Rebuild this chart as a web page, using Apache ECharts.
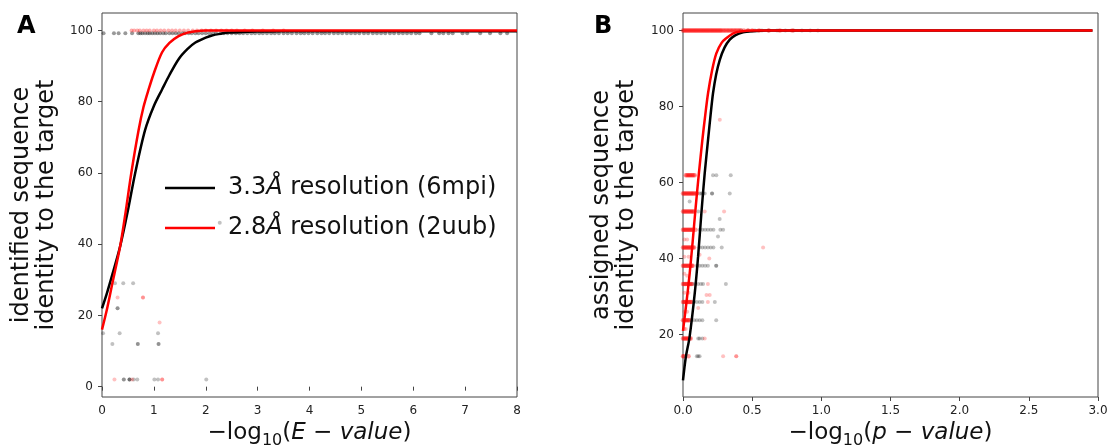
<!DOCTYPE html>
<html><head><meta charset="utf-8">
<script src="https://cdn.jsdelivr.net/npm/echarts@6/dist/echarts.min.js"></script>
<style>html,body{margin:0;padding:0;background:#fff}#c{width:1110px;height:448px}</style>
</head><body><div id="c"></div>
<script>
// ---------- Panel A data ----------
const xTicksA = [0,1,2,3,4,5,6,7,8];
const yTicksA = [0,20,40,60,80,100];
const blackCurveAx = [0,0.1,0.2,0.35,0.5,0.64,0.83,1.0,1.16,1.3,1.48,1.65,1.8,2.0,2.12,2.3,2.44,2.7,3.0,3.5,4,5,6,7,8];
const blackCurveAy = [22,26.5,31.5,39.4,49.5,60,72,78.8,83.5,87.5,92,94.8,96.6,98,98.6,99.1,99.4,99.6,99.7,99.8,99.8,99.8,99.8,99.8,99.8];
const redCurveAx = [0,0.1,0.2,0.35,0.45,0.565,0.705,0.8,0.9,1.0,1.156,1.3,1.476,1.65,1.8,2.0,2.5,8];
const redCurveAy = [16,22,29,39.4,48.5,60,72,78.5,83.5,88,93.8,96.5,98.4,99.4,99.8,100,100,100];
const blackLowA = [[0.25,29],[0.41,29],[0.6,29],[0.30,22],[0.30,22],[0.02,15],[0.34,15],[1.08,15],[0.2,12],[0.69,12],[0.69,12],[1.09,12],[1.09,12],[0.42,2],[0.42,2],[0.53,2],[0.53,2],[0.53,2],[0.61,2],[0.68,2],[1.01,2],[1.08,2],[2.01,2],[2.27,46]];
const redLowA = [[0.30,25],[0.79,25],[0.79,25],[1.11,18],[0.24,2],[1.16,2],[1.16,2],[0.58,2]];
const blackTopAy = 99.2;
const blackTopAx = [0.03,0.23,0.32,0.45,0.58,0.7,0.74,0.78,0.83,0.88,0.92,0.97,1.02,1.07,1.12,1.18,1.23,1.3,1.36,1.42,1.48,1.55,1.6,1.67,1.73,1.8,1.86,1.93,2.0,2.07,2.14,2.2,2.28,2.35,2.42,2.5,2.58,2.65,2.72,2.8,2.88,2.95,3.03,3.1,3.18,3.26,3.33,3.41,3.5,3.58,3.66,3.75,3.83,3.9,3.98,4.06,4.15,4.23,4.3,4.38,4.47,4.55,4.63,4.72,4.8,4.88,4.96,5.05,5.13,5.22,5.3,5.38,5.46,5.55,5.63,5.72,5.8,5.88,5.96,6.05,6.12,6.35,6.5,6.58,6.68,6.76,6.95,7.04,7.29,7.48,7.68,7.81];
const redTopAy = 100;
const redTopAx = [0.57,0.62,0.68,0.73,0.8,0.86,0.92,1.0,1.06,1.13,1.2,1.28,1.35,1.42,1.5,1.58,1.66,1.75,1.83,1.92,2.0,2.1,2.2,2.3,2.4,2.5,2.6,2.75,2.9,3.1,3.3,3.5];

// ---------- Panel B data ----------
const xTicksB = [0,0.5,1.0,1.5,2.0,2.5,3.0];
const yTicksB = [20,40,60,80,100];
const blackCurveBx = [0,0.02,0.048,0.085,0.109,0.133,0.157,0.181,0.2,0.217,0.24,0.266,0.3,0.338,0.38,0.434,0.5,0.6,1.0,2.0,2.96];
const blackCurveBy = [8,14,19.5,30.9,40.5,52,62.5,71.2,78,83.5,88.5,92.3,95.5,97.6,98.8,99.5,99.8,100,100,100,100];
const redCurveBx = [0,0.025,0.048,0.07,0.092,0.115,0.14,0.16,0.181,0.21,0.241,0.28,0.314,0.36,0.41,0.5,0.6,1.0,2.0,2.96];
const redCurveBy = [21,28.5,36,44.5,53.7,62.5,71.2,77.5,83.5,89.5,94,96.8,98,99.2,99.7,100,100,100,100,100];
const redRunLevelsB = [61.9,57.1,52.4,47.6,42.9,38.1,33.3,28.6,23.8,19.0,14.3];
const redRunXB = [
  [0.02,0.028,0.036,0.044,0.052,0.06,0.068,0.076,0.085],
  [0,0.008,0.016,0.024,0.032,0.04,0.048,0.056,0.064,0.072,0.08,0.09,0.1],
  [0,0.008,0.016,0.024,0.032,0.04,0.048,0.056,0.064,0.072,0.08],
  [0,0.008,0.016,0.024,0.032,0.04,0.048,0.056,0.064,0.072,0.09],
  [0,0.008,0.016,0.024,0.032,0.04,0.048,0.056,0.064,0.072,0.08],
  [0,0.008,0.016,0.024,0.032,0.04,0.048,0.056,0.064,0.07],
  [0,0.008,0.016,0.024,0.032,0.04,0.048,0.056,0.064],
  [0,0.008,0.016,0.024,0.032,0.04,0.048,0.056,0.064],
  [0,0.008,0.016,0.024,0.032,0.04,0.048],
  [0,0.008,0.016,0.024,0.032,0.04,0.048,0.056],
  [0,0.006,0.04]
];
const redTopBy = 100;
const redTopBx = [0,0.008,0.016,0.024,0.032,0.04,0.048,0.056,0.064,0.072,0.08,0.088,0.096,0.104,0.112,0.12,0.128,0.136,0.144,0.152,0.16,0.168,0.176,0.184,0.192,0.2,0.208,0.216,0.224,0.232,0.24,0.248,0.256,0.264,0.272,0.28,0.29,0.3,0.31,0.32,0.33,0.34,0.35,0.36,0.37,0.38,0.39,0.4,0.41,0.42,0.44,0.47,0.5,0.55,0.62,0.7,0.79];
const redExtraB = [[0.157,52.4],[0.297,52.4],[0.579,42.9],[0.12,41],[0.19,40],[0.18,33.3],[0.17,30.4],[0.193,30.4],[0.18,28.6],[0.11,27],[0.157,19.0],[0.29,14.3],[0.385,14.3],[0.385,14.3],[0.266,76.5],
  [0.01,45],[0.03,45],[0.01,40.5],[0.04,40.5],[0.01,36],[0.03,35.5],[0.01,31],[0.04,31],[0.01,26],[0.03,26],[0.01,21.5],[0.02,21.5]];
const blackB = [[0.217,61.9],[0.241,61.9],[0.345,61.9],
  [0.12,57.1],[0.133,57.1],[0.145,57.1],[0.157,57.1],[0.21,57.1],[0.21,57.1],[0.338,57.1],[0.048,55],
  [0.11,52.4],[0.265,50.4],
  [0.12,47.6],[0.14,47.6],[0.16,47.6],[0.18,47.6],[0.2,47.6],[0.22,47.6],[0.27,47.6],[0.29,47.6],[0.253,45.8],
  [0.12,42.9],[0.14,42.9],[0.16,42.9],[0.18,42.9],[0.2,42.9],[0.22,42.9],[0.28,42.9],
  [0.1,38.1],[0.12,38.1],[0.14,38.1],[0.16,38.1],[0.18,38.1],[0.24,38.1],[0.24,38.1],
  [0.07,33.3],[0.09,33.3],[0.11,33.3],[0.13,33.3],[0.145,33.3],[0.31,33.3],
  [0.08,28.6],[0.1,28.6],[0.12,28.6],[0.14,28.6],[0.23,28.6],
  [0.06,23.8],[0.08,23.8],[0.1,23.8],[0.12,23.8],[0.14,23.8],[0.24,23.8],
  [0.11,19.0],[0.12,19.0],[0.14,19.0],
  [0.1,14.3],[0.11,14.3],[0.12,14.3]];
const blackTopBy = 100;
const blackTopBx = [0.42,0.47,0.52,0.57,0.62,0.68,0.74,0.8,0.86,0.92,0.975];

const nameA1 = '3.3\u00c5 resolution (6mpi)';
const nameA2 = '2.8\u00c5 resolution (2uub)';

// ---------- build ----------
const zip = (xs, ys) => xs.map((x, i) => [x, ys[i]]);
const row = (xs, y) => xs.map(x => [x, y]);
const redRunsB = [];
redRunLevelsB.forEach((lv, i) => redRunXB[i].forEach(x => redRunsB.push([x, lv])));

const FF = 'DejaVu Sans';
const BLK = 'rgba(0,0,0,0.3)';
const RED = 'rgba(255,0,0,0.3)';
const tick = {show: true, length: 4, lineStyle: {color: '#444', width: 1}};
const lbl = {fontSize: 12, color: '#222', fontFamily: FF};
const titleRich = {
  a: {fontSize: 23, fontFamily: FF, color: '#111', lineHeight: 30},
  s: {fontSize: 16, fontFamily: FF, color: '#111', lineHeight: 16, verticalAlign: 'bottom'},
  i: {fontSize: 23, fontFamily: FF, color: '#111', fontStyle: 'italic', lineHeight: 30}
};

function scat(name, data, xi, color, size) {
  return {type: 'scatter', name: name, xAxisIndex: xi, yAxisIndex: xi, data: data,
    symbolSize: size || 4, itemStyle: {color: color}, silent: true, z: 2};
}
function curve(name, data, xi, color) {
  return {type: 'line', name: name, xAxisIndex: xi, yAxisIndex: xi, data: data,
    showSymbol: false, symbol: 'none', smooth: 0.3,
    lineStyle: {color: color, width: 2.5}, itemStyle: {color: color}, z: 5, silent: true};
}

const option = {
  animation: false,
  backgroundColor: '#fff',
  grid: [
    {left: 102, top: 13, width: 415, height: 384, show: true, borderColor: '#444', borderWidth: 1,
     backgroundColor: 'transparent', containLabel: false, outerBoundsMode: 'none'},
    {left: 683, top: 13, width: 415, height: 384, show: true, borderColor: '#444', borderWidth: 1,
     backgroundColor: 'transparent', containLabel: false, outerBoundsMode: 'none'}
  ],
  xAxis: [
    {type: 'value', gridIndex: 0, min: 0, max: 8, interval: 1,
     axisLine: {show: false}, axisTick: tick, splitLine: {show: false},
     axisLabel: Object.assign({margin: 8, customValues: xTicksA}, lbl),
     name: '{a|\u2212log}{s|10}{a|(}{i|E \u2212 value}{a|)}', nameLocation: 'middle', nameGap: 21,
     nameTextStyle: {rich: titleRich}},
    {type: 'value', gridIndex: 1, min: 0, max: 3, interval: 0.5,
     axisLine: {show: false}, axisTick: tick, splitLine: {show: false},
     axisLabel: Object.assign({margin: 8, customValues: xTicksB, formatter: v => v.toFixed(1)}, lbl),
     name: '{a|\u2212log}{s|10}{a|(}{i|p \u2212 value}{a|)}', nameLocation: 'middle', nameGap: 21,
     nameTextStyle: {rich: titleRich}}
  ],
  yAxis: [
    {type: 'value', gridIndex: 0, min: -2.9, max: 104.9,
     axisLine: {show: false}, axisTick: Object.assign({customValues: yTicksA}, tick), splitLine: {show: false},
     axisLabel: Object.assign({margin: 9, customValues: yTicksA}, lbl),
     name: 'identified sequence\nidentity to the target', nameLocation: 'middle', nameGap: 43,
     nameTextStyle: {fontSize: 24, fontFamily: FF, color: '#111', lineHeight: 25}},
    {type: 'value', gridIndex: 1, min: 3.6, max: 104.6,
     axisLine: {show: false}, axisTick: Object.assign({customValues: yTicksB}, tick), splitLine: {show: false},
     axisLabel: Object.assign({margin: 9, customValues: yTicksB}, lbl),
     name: 'assigned sequence\nidentity to the target', nameLocation: 'middle', nameGap: 44,
     nameTextStyle: {fontSize: 24, fontFamily: FF, color: '#111', lineHeight: 25}}
  ],
  legend: {
    data: [nameA1, nameA2], orient: 'vertical', left: 160, top: 171,
    icon: 'rect', itemWidth: 50, itemHeight: 2.5, itemGap: 16,
    selectedMode: false,
    formatter: n => n === nameA1 ? '{n|3.3}{i|\u00c5}{n| resolution (6mpi)}' : '{n|2.8}{i|\u00c5}{n| resolution (2uub)}',
    textStyle: {padding: [0, 0, 0, 8], rich: {
      n: {fontSize: 24, fontFamily: FF, color: '#111', lineHeight: 28},
      i: {fontSize: 24, fontFamily: FF, color: '#111', fontStyle: 'italic', lineHeight: 28}
    }}
  },
  graphic: [
    {type: 'text', left: 17, top: 15, style: {text: 'A', font: 'bold 24px "DejaVu Sans"', fill: '#000'}},
    {type: 'text', left: 594, top: 15, style: {text: 'B', font: 'bold 24px "DejaVu Sans"', fill: '#000'}}
  ],
  series: [
    scat('a-black-top', row(blackTopAx, blackTopAy), 0, 'rgba(0,0,0,0.5)'),
    scat('a-red-top', row(redTopAx, redTopAy), 0, 'rgba(255,0,0,0.4)'),
    scat('a-black-low', blackLowA, 0, BLK),
    scat('a-red-low', redLowA, 0, RED),
    curve(nameA1, zip(blackCurveAx, blackCurveAy), 0, '#000'),
    curve(nameA2, zip(redCurveAx, redCurveAy), 0, '#ff0000'),
    scat('b-black', blackB, 1, BLK),
    scat('b-black-top', row(blackTopBx, blackTopBy), 1, BLK),
    scat('b-red-runs', redRunsB, 1, 'rgba(255,0,0,0.5)', 4.5),
    scat('b-red-top', row(redTopBx, redTopBy), 1, 'rgba(255,0,0,0.5)', 4.5),
    scat('b-red-extra', redExtraB, 1, RED),
    curve('6mpi B', zip(blackCurveBx, blackCurveBy), 1, '#000'),
    curve('2uub B', zip(redCurveBx, redCurveBy), 1, '#ff0000')
  ]
};
const chart = echarts.init(document.getElementById('c'), null, {renderer: 'canvas'});
chart.setOption(option);
</script></body></html>
